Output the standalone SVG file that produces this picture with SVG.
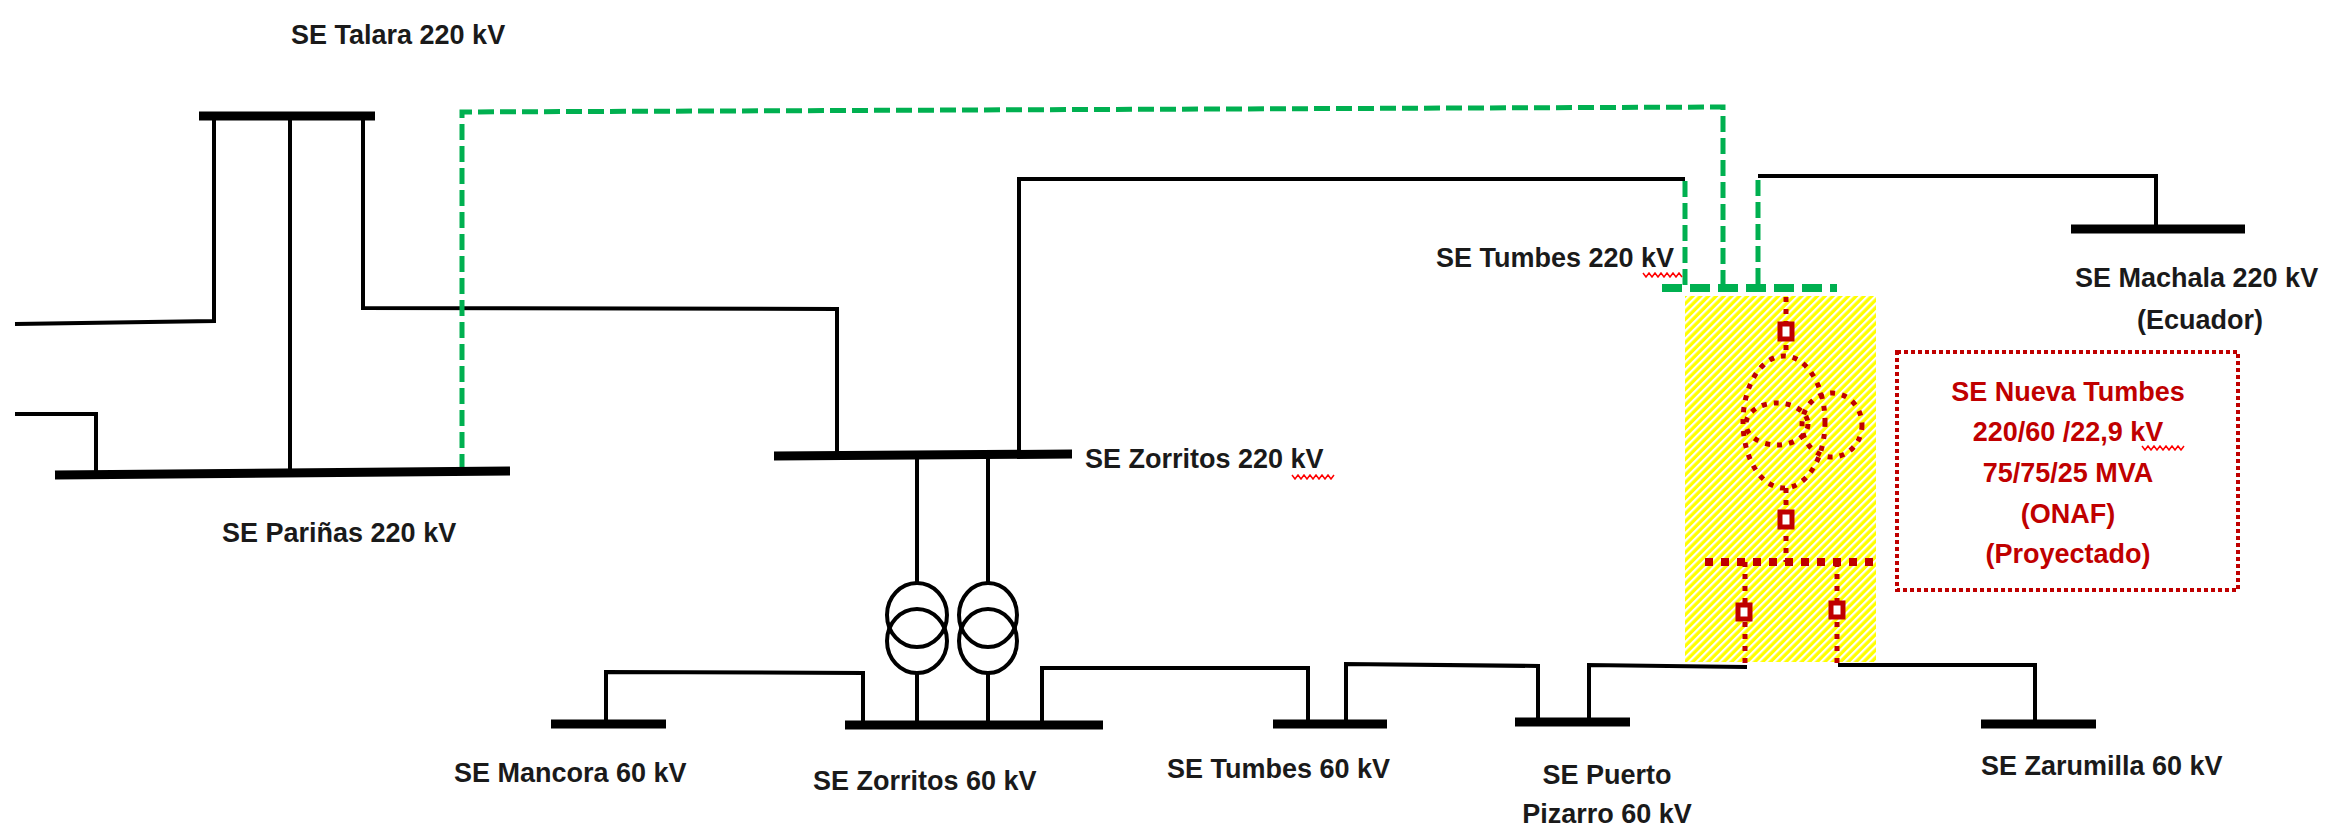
<svg xmlns="http://www.w3.org/2000/svg" width="2332" height="828" viewBox="0 0 2332 828">
<defs>
<pattern id="hatch" patternUnits="userSpaceOnUse" width="5.5" height="5.5" patternTransform="rotate(45)">
<rect width="5.5" height="5.5" fill="#FFFF00"/>
<rect x="0" y="0" width="2.2" height="5.5" fill="#FFFFFF"/>
</pattern>
</defs>
<style>
.bus{stroke:#000;stroke-width:9;fill:none}
.ln{stroke:#000;stroke-width:4;fill:none;stroke-linejoin:miter}
.grn{stroke:#00B050;stroke-width:5;fill:none;stroke-dasharray:16 6}
.gbus{stroke:#00B050;stroke-width:8;fill:none;stroke-dasharray:20 8}
.rd{stroke:#C00000;stroke-width:5;fill:none;stroke-dasharray:5 7}
.rbus{stroke:#C00000;stroke-width:8;fill:none;stroke-dasharray:8 8}
.brk{stroke:#C00000;stroke-width:5;fill:#fff}
.tr{stroke:#000;stroke-width:4;fill:none}
.lbl{font-family:"Liberation Sans",Arial,sans-serif;font-size:27px;font-weight:bold;fill:#1a1a1a}
.rlbl{font-family:"Liberation Sans",Arial,sans-serif;font-size:27px;font-weight:bold;fill:#C00000;text-anchor:middle}
.sq{stroke:#ff0000;stroke-width:1.5;fill:none}
</style>
<rect width="2332" height="828" fill="#fff"/>

<g id="connectors">
<polyline class="ln" points="15,324 214,321 214,116"/>
<polyline class="ln" points="15,414 96,414 96,473"/>
<line class="ln" x1="290" y1="116" x2="290" y2="472"/>
<polyline class="ln" points="363,116 363,308 837,309 837,455"/>
<polyline class="ln" points="1019,452 1019,179 1685,179"/>
<polyline class="ln" points="1758,176 2156,176 2156,229"/>
<polyline class="ln" points="606,724 606,672 863,673 863,725"/>
<line class="ln" x1="917" y1="455" x2="917" y2="583"/>
<line class="ln" x1="917" y1="673" x2="917" y2="725"/>
<line class="ln" x1="988" y1="455" x2="988" y2="583"/>
<line class="ln" x1="988" y1="673" x2="988" y2="725"/>
<polyline class="ln" points="1042,725 1042,668 1308,668 1308,724"/>
<polyline class="ln" points="1346,724 1346,664 1538,666 1538,722"/>
<polyline class="ln" points="1589,722 1589,665 1747,667"/>
<polyline class="ln" points="1838,665 2035,665 2035,724"/>
<polyline class="grn" points="462,470 462,112 1723,107 1723,288"/>
<line class="grn" x1="1685" y1="181" x2="1685" y2="288"/>
<line class="grn" x1="1758" y1="180" x2="1758" y2="288"/>
</g>

<g id="se-talara">
<line class="bus" x1="199" y1="116" x2="375" y2="116"/>
<text class="lbl" x="291" y="44">SE Talara 220 kV</text>
</g>

<g id="se-parinas">
<line class="bus" x1="55" y1="475" x2="510" y2="471"/>
<text class="lbl" x="222" y="542">SE Pariñas 220 kV</text>
</g>

<g id="se-zorritos-220">
<line class="bus" x1="774" y1="456" x2="1072" y2="454"/>
<text class="lbl" x="1085" y="468">SE Zorritos 220 kV</text>
<path class="sq" d="M1292,475 l3,4 l3,-4 l3,4 l3,-4 l3,4 l3,-4 l3,4 l3,-4 l3,4 l3,-4 l3,4 l3,-4 l3,4 l3,-4"/>
</g>

<g id="tr-zorritos-1">
<ellipse class="tr" cx="917" cy="615" rx="30" ry="32"/>
<ellipse class="tr" cx="917" cy="641" rx="30" ry="32"/>
</g>
<g id="tr-zorritos-2">
<ellipse class="tr" cx="988" cy="615" rx="29" ry="32"/>
<ellipse class="tr" cx="988" cy="641" rx="29" ry="32"/>
</g>

<g id="se-tumbes-220">
<line class="gbus" x1="1662" y1="288" x2="1837" y2="288"/>
<text class="lbl" x="1436" y="267">SE Tumbes 220 kV</text>
<path class="sq" d="M1643,273 l3,4 l3,-4 l3,4 l3,-4 l3,4 l3,-4 l3,4 l3,-4 l3,4 l3,-4 l3,4 l3,-4 l3,4"/>
</g>

<g id="se-machala">
<line class="bus" x1="2071" y1="229" x2="2245" y2="229"/>
<text class="lbl" x="2075" y="287">SE Machala 220 kV</text>
<text class="lbl" x="2200" y="329" text-anchor="middle">(Ecuador)</text>
</g>

<g id="se-nueva-tumbes">
<rect x="1685" y="296" width="191" height="366" fill="url(#hatch)"/>
<line class="rd" x1="1786" y1="297" x2="1786" y2="357"/>
<line class="rd" x1="1786" y1="488" x2="1786" y2="562"/>
<ellipse class="rd" cx="1784" cy="422" rx="41" ry="66"/>
<ellipse class="rd" cx="1777" cy="424" rx="31" ry="21"/>
<ellipse class="rd" cx="1832" cy="425" rx="30" ry="32"/>
<line class="rbus" x1="1705" y1="562" x2="1876" y2="562"/>
<line class="rd" x1="1745" y1="562" x2="1745" y2="667"/>
<line class="rd" x1="1837" y1="562" x2="1837" y2="665"/>
<rect class="brk" x="1780" y="324" width="12" height="15"/>
<rect class="brk" x="1780" y="512" width="12" height="15"/>
<rect class="brk" x="1738" y="605" width="12" height="14"/>
<rect class="brk" x="1831" y="603" width="12" height="14"/>
</g>

<g id="info-nueva-tumbes">
<rect x="1897" y="352" width="341" height="238" fill="none" stroke="#C00000" stroke-width="4" stroke-dasharray="4 3"/>
<text class="rlbl" x="2068" y="401">SE Nueva Tumbes</text>
<text class="rlbl" x="2068" y="441">220/60 /22,9 kV</text>
<text class="rlbl" x="2068" y="482">75/75/25 MVA</text>
<text class="rlbl" x="2068" y="523">(ONAF)</text>
<text class="rlbl" x="2068" y="563">(Proyectado)</text>
<path class="sq" d="M2142,446 l3,4 l3,-4 l3,4 l3,-4 l3,4 l3,-4 l3,4 l3,-4 l3,4 l3,-4 l3,4 l3,-4 l3,4 l3,-4"/>
</g>

<g id="se-mancora">
<line class="bus" x1="551" y1="724" x2="666" y2="724"/>
<text class="lbl" x="454" y="782">SE Mancora 60 kV</text>
</g>

<g id="se-zorritos-60">
<line class="bus" x1="845" y1="725" x2="1103" y2="725"/>
<text class="lbl" x="813" y="790">SE Zorritos 60 kV</text>
</g>

<g id="se-tumbes-60">
<line class="bus" x1="1273" y1="724" x2="1387" y2="724"/>
<text class="lbl" x="1167" y="778">SE Tumbes 60 kV</text>
</g>

<g id="se-puerto-pizarro">
<line class="bus" x1="1515" y1="722" x2="1630" y2="722"/>
<text class="lbl" x="1607" y="784" text-anchor="middle">SE Puerto</text>
<text class="lbl" x="1607" y="823" text-anchor="middle">Pizarro 60 kV</text>
</g>

<g id="se-zarumilla">
<line class="bus" x1="1981" y1="724" x2="2096" y2="724"/>
<text class="lbl" x="1981" y="775">SE Zarumilla 60 kV</text>
</g>
</svg>
